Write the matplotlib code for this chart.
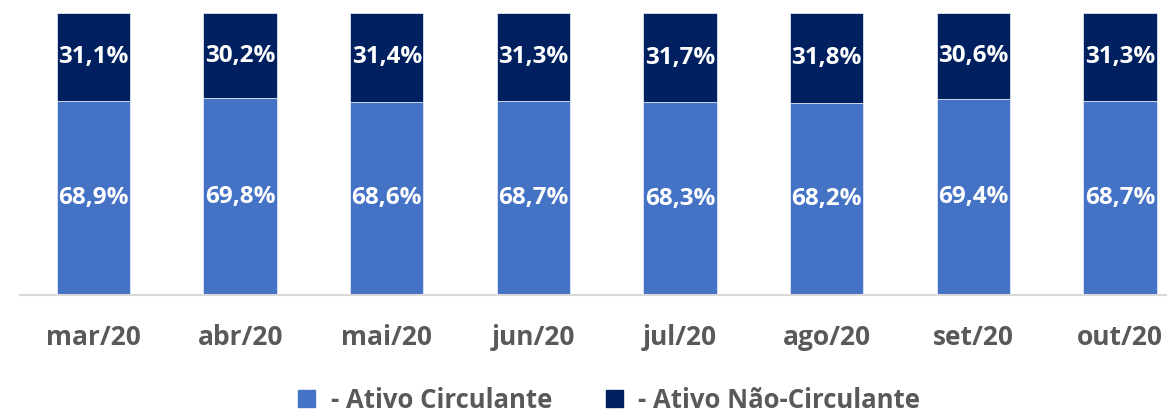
import matplotlib
matplotlib.use("Agg")
import matplotlib.pyplot as plt
from matplotlib.patches import Patch

meses = ["mar/20", "abr/20", "mai/20", "jun/20", "jul/20", "ago/20", "set/20", "out/20"]
circulante = [68.9, 69.8, 68.6, 68.7, 68.3, 68.2, 69.4, 68.7]
nao_circulante = [31.1, 30.2, 31.4, 31.3, 31.7, 31.8, 30.6, 31.3]

cor_circ = "#4472C4"
cor_nao = "#002060"
cinza = "#595959"

plt.rcParams["font.family"] = ["Open Sans", "DejaVu Sans"]
plt.rcParams["font.weight"] = "bold"

fig = plt.figure(figsize=(11.67, 4.15), dpi=100)
ax = fig.add_axes([20 / 1167, 1 - 295 / 415, 1 - 20 / 1167, (295 - 13) / 415])

x = list(range(len(meses)))
b1 = ax.bar(x, circulante, width=0.5, color=cor_circ, edgecolor="#dfe6f3", linewidth=0.6)
b2 = ax.bar(x, nao_circulante, width=0.5, bottom=circulante, color=cor_nao,
            edgecolor="#dfe6f3", linewidth=0.6)

for i in x:
    ax.text(i, circulante[i] / 2, f"{circulante[i]:.1f}%".replace(".", ","),
            ha="center", va="center", color="white", fontsize=17.5, fontweight="bold")
    ax.text(i, circulante[i] + nao_circulante[i] / 2, f"{nao_circulante[i]:.1f}%".replace(".", ","),
            ha="center", va="center", color="white", fontsize=17.5, fontweight="bold")

ax.set_xlim(-0.501, 7.32)
ax.set_ylim(0, 100)
ax.set_yticks([])
ax.set_xticks(x)
ax.set_xticklabels(meses, fontsize=19, fontweight="bold", color=cinza)
ax.tick_params(axis="x", length=0, pad=21)
for s in ["top", "left", "right"]:
    ax.spines[s].set_visible(False)
ax.spines["bottom"].set_color("#d9d9d9")
ax.spines["bottom"].set_linewidth(1.5)

handles = [Patch(color=cor_circ, label="- Ativo Circulante"),
           Patch(color=cor_nao, label="- Ativo Não-Circulante")]
fig.legend(handles=handles, loc="center", bbox_to_anchor=(0.522, 1 - 400 / 415), ncol=2,
           frameon=False, fontsize=18.5, handlelength=0.65, handleheight=0.65,
           handletextpad=0.6, columnspacing=2.1, labelcolor=cinza)

fig.savefig("out.png", dpi=100)
